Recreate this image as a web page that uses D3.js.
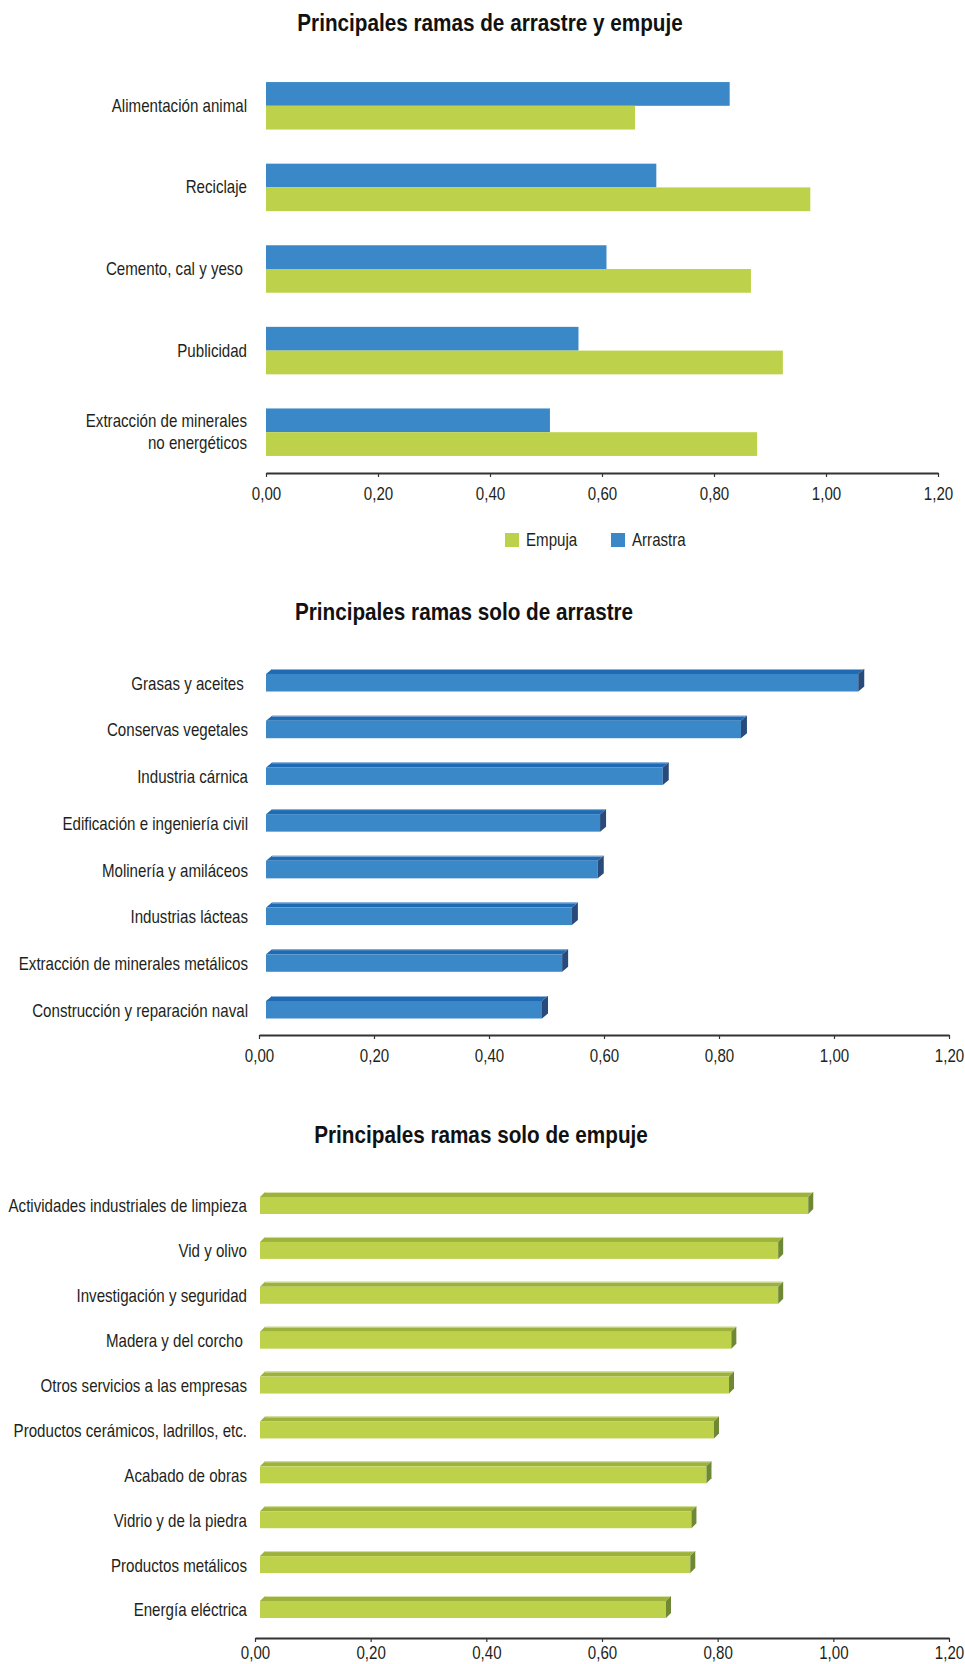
<!DOCTYPE html>
<html>
<head>
<meta charset="utf-8">
<script src="https://cdn.jsdelivr.net/npm/d3@7"></script>
<style>
  body { margin: 0; background: #fff; }
  svg text {
    font-family: "Liberation Sans", Arial, Helvetica, sans-serif;
    fill: #231f20;
    white-space: pre;
  }
</style>
</head>
<body>
<svg id="chart" width="965" height="1664"></svg>
<script>
// ---- Data ----
const seriesNames = ["Arrastra", "Empuja"];
const legendOrder = ["Empuja", "Arrastra"];

// Ramas de arrastre y empuje
const mixedCategories = [
  "Alimentación animal",
  "Reciclaje",
  "Cemento, cal y yeso ",
  "Publicidad",
  "Extracción de minerales\nno energéticos"
];
const mixedArrastra = [0.828, 0.697, 0.608, 0.558, 0.507];
const mixedEmpuja   = [0.659, 0.972, 0.866, 0.923, 0.877];

// Ramas solo de arrastre
const pullCategories = [
  "Grasas y aceites ",
  "Conservas vegetales",
  "Industria cárnica",
  "Edificación e ingeniería civil",
  "Molinería y amiláceos",
  "Industrias lácteas",
  "Extracción de minerales metálicos",
  "Construcción y reparación naval"
];
const pullValues = [1.030, 0.826, 0.690, 0.581, 0.577, 0.532, 0.515, 0.480];

// Ramas solo de empuje
const pushCategories = [
  "Actividades industriales de limpieza",
  "Vid y olivo",
  "Investigación y seguridad",
  "Madera y del corcho ",
  "Otros servicios a las empresas",
  "Productos cerámicos, ladrillos, etc.",
  "Acabado de obras",
  "Vidrio y de la piedra",
  "Productos metálicos",
  "Energía eléctrica"
];
const pushValues = [0.948, 0.896, 0.896, 0.815, 0.811, 0.785, 0.772, 0.746, 0.744, 0.702];

const tickValues = [0, 0.2, 0.4, 0.6, 0.8, 1.0, 1.2];
const titles = [
  "Principales ramas de arrastre y empuje",
  "Principales ramas solo de arrastre",
  "Principales ramas solo de empuje"
];

// ---- Styling ----
const colors = {
  Arrastra: { front: "#3a88c8", top: "#1f6bb3", side: "#284b7c", edge: "#8fb3dc" },
  Empuja:   { front: "#bdd24a", top: "#9db23d", side: "#6f8834", edge: "#d8e4a6" }
};
const fmt = d => d.toFixed(2).replace(".", ",");
const labelSize = 18;     // condensed look: glyphs narrowed horizontally
const labelStretch = 0.84;
const titleSize = 23;
const titleStretch = 0.9;

const svg = d3.select("#chart");

function drawTitle(text, cx, cy) {
  svg.append("text")
    .attr("transform", `translate(${cx},${cy}) scale(${titleStretch},1)`)
    .attr("text-anchor", "middle")
    .attr("dominant-baseline", "central")
    .style("font-size", titleSize + "px")
    .style("font-weight", "bold")
    .style("fill", "#111")
    .text(text);
}

function drawAxis(x, y, labelOffset) {
  const g = svg.append("g").attr("transform", `translate(0,${y})`)
    .call(d3.axisBottom(x).tickValues(tickValues).tickFormat(fmt).tickSize(4).tickSizeOuter(0));
  g.attr("font-family", null).attr("font-size", null);
  g.select(".domain").attr("stroke", "#333").attr("stroke-width", 2);
  g.selectAll(".tick line").attr("stroke", "#333").attr("stroke-width", 1.2);
  g.selectAll(".tick text")
    .attr("y", null).attr("dy", null)
    .attr("transform", `translate(0,${labelOffset}) scale(${labelStretch},1)`)
    .attr("dominant-baseline", "central")
    .style("font-size", labelSize + "px")
    .attr("fill", "#231f20");
}

function drawCategoryLabels(cats, yOf, xRight) {
  cats.forEach(c => {
    const lines = c.split("\n");
    const lh = 22;
    lines.forEach((ln, i) => {
      svg.append("text")
        .attr("transform", `translate(${xRight},${yOf(c) + (i - (lines.length - 1) / 2) * lh}) scale(${labelStretch},1)`)
        .attr("text-anchor", "end")
        .attr("dominant-baseline", "central")
        .style("font-size", labelSize + "px")
        .text(ln);
    });
  });
}

// ---- Chart 1: grouped flat bars ----
(function () {
  const x = d3.scaleLinear().domain([0, 1.2]).range([266, 938]);
  const y = d3.scaleBand().domain(mixedCategories).range([65, 473]).paddingInner(0.418).paddingOuter(0.209);
  const ySub = d3.scaleBand().domain(seriesNames).range([0, y.bandwidth()]);
  const rows = mixedCategories.map((c, i) => ({ c, Arrastra: mixedArrastra[i], Empuja: mixedEmpuja[i] }));

  drawTitle(titles[0], 490, 23);

  const grp = svg.append("g").selectAll("g").data(rows).join("g")
    .attr("transform", d => `translate(0,${y(d.c)})`);
  grp.selectAll("rect").data(d => seriesNames.map(s => ({ s, v: d[s] }))).join("rect")
    .attr("x", x(0))
    .attr("y", d => ySub(d.s))
    .attr("width", d => x(d.v) - x(0))
    .attr("height", ySub.bandwidth())
    .attr("fill", d => colors[d.s].front);

  drawAxis(x, 473, 21.5);
  drawCategoryLabels(mixedCategories, c => y(c) + y.bandwidth() / 2, 247);

  // Legend
  const leg = svg.append("g");
  const legX = { Empuja: 505, Arrastra: 611 };
  legendOrder.forEach(s => {
    leg.append("rect").attr("x", legX[s]).attr("y", 533).attr("width", 14).attr("height", 14)
      .attr("fill", colors[s].front);
    leg.append("text")
      .attr("transform", `translate(${legX[s] + 21},540.5) scale(${labelStretch},1)`)
      .attr("dominant-baseline", "central")
      .style("font-size", labelSize + "px")
      .text(s);
  });
})();

// ---- 3D-style single-series bars ----
function bars3d(cfg) {
  const x = d3.scaleLinear().domain([0, 1.2]).range([cfg.x0, cfg.x1]);
  const y = d3.scalePoint().domain(cfg.categories).range([cfg.firstCenter, cfg.lastCenter]);
  const col = colors[cfg.series];
  const h = cfg.barHeight, dx = cfg.dx, dy = cfg.dy, shift = cfg.shift;
  const rows = cfg.categories.map((c, i) => ({ c, v: cfg.values[i] }));

  drawTitle(cfg.title, cfg.titleX, cfg.titleY);

  const g = svg.append("g").selectAll("g").data(rows).join("g");
  // top face
  g.append("path")
    .attr("d", d => {
      const a = x(0) + shift, b = x(d.v) + shift, t = y(d.c) - h / 2;
      return `M${a},${t}L${a + dx},${t - dy}L${b + dx},${t - dy}L${b},${t}Z`;
    })
    .attr("fill", col.top);
  // light back edge
  g.append("line")
    .attr("x1", d => x(0) + shift + dx).attr("x2", d => x(d.v) + shift + dx)
    .attr("y1", d => y(d.c) - h / 2 - dy + 0.5).attr("y2", d => y(d.c) - h / 2 - dy + 0.5)
    .attr("stroke", col.edge).attr("stroke-width", 1);
  // front face
  g.append("rect")
    .attr("x", x(0) + shift)
    .attr("y", d => y(d.c) - h / 2)
    .attr("width", d => x(d.v) - x(0))
    .attr("height", h)
    .attr("fill", col.front);
  // right face
  g.append("path")
    .attr("d", d => {
      const b = x(d.v) + shift, t = y(d.c) - h / 2;
      return `M${b},${t}L${b + dx},${t - dy}L${b + dx},${t + h - dy}L${b},${t + h}Z`;
    })
    .attr("fill", col.side);

  drawAxis(x, cfg.axisY, cfg.labelOffset);
  drawCategoryLabels(cfg.categories, c => y(c) + 1, cfg.labelRight);
}

bars3d({
  title: titles[1], titleX: 464, titleY: 612,
  categories: pullCategories, values: pullValues, series: "Arrastra",
  x0: 259, x1: 949, shift: 7, dx: 6, dy: 5, barHeight: 17.5,
  firstCenter: 682.75, lastCenter: 1009.75,
  axisY: 1035, labelOffset: 21, labelRight: 248
});

bars3d({
  title: titles[2], titleX: 481, titleY: 1135,
  categories: pushCategories, values: pushValues, series: "Empuja",
  x0: 255, x1: 949, shift: 5, dx: 5, dy: 5, barHeight: 17,
  firstCenter: 1205.5, lastCenter: 1609.5,
  axisY: 1638, labelOffset: 15, labelRight: 247
});
</script>
</body>
</html>
